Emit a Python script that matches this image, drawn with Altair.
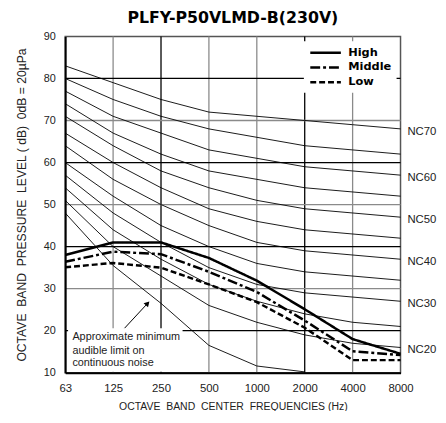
import altair as alt
import pandas as pd

FONT = "Liberation Sans"
WIDE = "DejaVu Sans"

# ---- data ----
freq_labels = ["63", "125", "250", "500", "1000", "2000", "4000", "8000"]
freq_index = [0, 1, 2, 3, 4, 5, 6, 7]

nc_names = ["NC20", "NC25", "NC30", "NC35", "NC40", "NC45", "NC50", "NC55", "NC60", "NC65", "NC70"]
nc20 = [51, 40, 33, 26, 22, 19, 17, 16]
nc25 = [54, 44, 37, 31, 27, 24, 22, 21]
nc30 = [57, 48, 41, 35, 31, 29, 28, 27]
nc35 = [60, 52, 45, 40, 36, 34, 33, 32]
nc40 = [64, 56, 50, 45, 41, 39, 38, 37]
nc45 = [67, 60, 54, 49, 46, 44, 43, 42]
nc50 = [71, 64, 58, 54, 51, 49, 48, 47]
nc55 = [74, 67, 62, 58, 56, 54, 53, 52]
nc60 = [77, 71, 67, 63, 61, 59, 58, 57]
nc65 = [80, 75, 71, 68, 66, 64, 63, 62]
nc70 = [83, 79, 75, 72, 71, 70, 69, 68]
nc_curves = [nc20, nc25, nc30, nc35, nc40, nc45, nc50, nc55, nc60, nc65, nc70]
nc_labeled = ["NC20", "NC30", "NC40", "NC50", "NC60", "NC70"]

audible_limit = [48, 35.5, 26.5, 16.5, 11.6, 10.2]

series_names = ["High", "Middle", "Low"]
high = [38, 41, 41, 37.3, 31.9, 25.1, 18, 14.5]
middle = [36.4, 38.8, 38.2, 34, 29.2, 22.4, 15.1, 14.2]
low = [35.1, 36.1, 35, 31, 26.8, 20.7, 13, 13]

grid_x = [1, 2, 3, 4, 5, 6]
grid_x_color = ["#8a8a8a", "black", "#8a8a8a", "#8a8a8a", "black", "#8a8a8a"]
grid_y = [20, 30, 40, 50, 60, 70, 80]
grid_y_color = ["black", "#8a8a8a", "black", "#8a8a8a", "black", "#8a8a8a", "black"]

note_lines = ["Approximate minimum", "audible limit on", "continuous noise"]
note_line_y = [18.6, 15.2, 12.3]
note_text_x = 0.15
note_box = {"x": 0.06, "x2": 2.45, "y": 10.25, "y2": 20.6}
arrow = {"x": 1.24, "y": 20.6, "x2": 1.72, "y2": 26.5}

title_text = "PLFY-P50VLMD-B(230V)"
x_title = "OCTAVE\u00a0 BAND\u00a0 CENTER\u00a0 FREQUENCIES (Hz)"
y_title = "OCTAVE\u00a0 BAND\u00a0 PRESSURE\u00a0 LEVEL ( dB)\u00a0 0dB = 20\u00b5Pa"

# ---- tables ----
nc_rows = []
for name, vals in zip(nc_names, nc_curves):
    for i, v in zip(freq_index, vals):
        nc_rows.append({"curve": name, "x": i, "y": v})
nc_df = pd.DataFrame(nc_rows)
nc_label_df = pd.DataFrame([{"label": n, "x": 7, "y": nc_curves[nc_names.index(n)][-1]} for n in nc_labeled])
aud_df = pd.DataFrame({"x": freq_index[:len(audible_limit)], "y": audible_limit})
unit_rows = []
for name, vals in zip(series_names, [high, middle, low]):
    for i, v in zip(freq_index, vals):
        unit_rows.append({"series": name, "x": i, "y": v})
unit_df = pd.DataFrame(unit_rows)
gx_df = pd.DataFrame({"x": grid_x, "c": grid_x_color})
gy_df = pd.DataFrame({"y": grid_y, "c": grid_y_color})
note_df = pd.DataFrame({"t": note_lines, "y": note_line_y, "x": [note_text_x] * 3})
box_df = pd.DataFrame([note_box])
arrow_df = pd.DataFrame([arrow])

xscale = alt.Scale(domain=[0, 7], nice=False, zero=False)
yscale = alt.Scale(domain=[10, 90], nice=False, zero=False)
label_expr = "[" + ",".join("'%s'" % f for f in freq_labels) + "][datum.value]"

xaxis = alt.Axis(values=freq_index, labelExpr=label_expr, title=x_title, grid=False, ticks=False,
                 domainColor="black", domainWidth=2, labelFontSize=11.5, labelPadding=10,
                 labelFlush=False, labelOverlap=False,
                 titleFontSize=10.6, titleFontWeight="normal", titlePadding=8,
                 labelColor="#222", titleColor="#222", labelFont=FONT, titleFont=FONT, zindex=1)
yaxis = alt.Axis(values=list(range(10, 91, 10)), title=y_title, grid=False, ticks=False,
                 domainColor="black", domainWidth=2, labelFontSize=11, labelPadding=10,
                 labelFlush=False, labelOverlap=False,
                 titleFontSize=12.3, titleFontWeight="normal", titlePadding=15,
                 labelColor="#222", titleColor="#222", labelFont=FONT, titleFont=FONT, zindex=1)


def X(field):
    return alt.X(field, type="quantitative", scale=xscale, axis=xaxis)


def Y(field):
    return alt.Y(field, type="quantitative", scale=yscale, axis=yaxis)


vgrid = alt.Chart(gx_df).mark_rule(strokeWidth=1.3).encode(
    x=X("x"), color=alt.Color("c:N", scale=None),
)
hgrid = alt.Chart(gy_df).mark_rule(strokeWidth=1.3).encode(
    y=Y("y"), color=alt.Color("c:N", scale=None),
)
box = alt.Chart(box_df).mark_rect(fill="white").encode(
    x=X("x"), x2="x2:Q", y=Y("y"), y2="y2:Q",
)
nc_lines = alt.Chart(nc_df).mark_line(color="black", strokeWidth=0.9).encode(
    x=X("x"), y=Y("y"), detail="curve:N",
)
aud_line = alt.Chart(aud_df).mark_line(color="black", strokeWidth=0.9).encode(
    x=X("x"), y=Y("y"),
)
note_text = alt.Chart(note_df).mark_text(align="left", baseline="middle", fontSize=11, font=FONT, color="#222").encode(
    x=X("x"), y=Y("y"), text="t:N",
)
arrow_line = alt.Chart(arrow_df).mark_rule(color="black", strokeWidth=1).encode(
    x=X("x"), x2="x2:Q", y=Y("y"), y2="y2:Q",
)
arrow_head = alt.Chart(arrow_df).mark_point(shape="triangle-up", filled=True, color="black", size=38, angle=43, opacity=1).encode(
    x=X("x2"), y=Y("y2"),
)
legend = alt.Legend(title=None, orient="none", legendX=242, legendY=5, symbolType="M-1,0H5.2",
                    symbolSize=100, symbolStrokeWidth=2.5, symbolStrokeColor="black",
                    labelFontWeight="bold", labelFontSize=11.5, labelFont=WIDE, labelColor="black",
                    fillColor="white", padding=5, rowPadding=3, labelOffset=27)
units = alt.Chart(unit_df).mark_line(color="black", strokeWidth=2.5, strokeCap="butt").encode(
    x=X("x"), y=Y("y"),
    strokeDash=alt.StrokeDash("series:N", scale=alt.Scale(domain=series_names, range=[[1, 0], [10, 3, 3, 3], [6, 3]]), legend=legend),
)
nc_text = alt.Chart(nc_label_df).mark_text(align="left", baseline="middle", dx=7, dy=3, fontSize=11.5, font=FONT, color="#222").encode(
    x=X("x"), y=Y("y"), text="label:N",
)

chart = alt.layer(vgrid, hgrid, box, nc_lines, aud_line, note_text, arrow_line, arrow_head, units, nc_text).properties(
    width=340, height=341,
    autosize=alt.AutoSizeParams(type="none"),
    padding={"left": 58, "top": 26, "right": 38, "bottom": 36},
    title=alt.TitleParams(title_text, fontSize=16, fontWeight="bold", font=WIDE, color="black",
                          anchor="middle", frame="group", offset=5),
).configure_view(stroke="#555", strokeWidth=1.5)

chart.save("out.html", embed_options={"renderer": "svg", "actions": False})
